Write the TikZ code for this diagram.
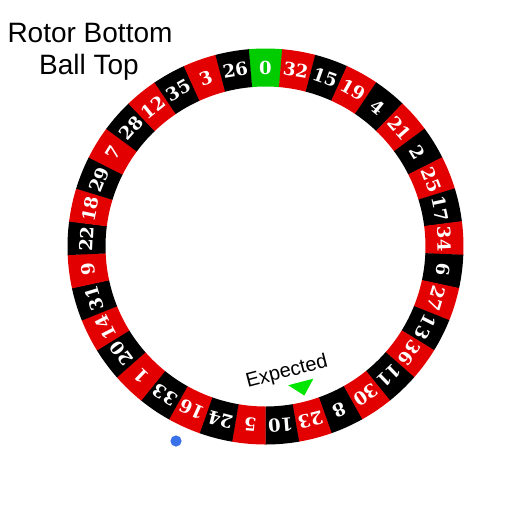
\documentclass[tikz,border=0pt]{standalone}
\usepackage{fontspec}
\setmainfont{Liberation Sans}
\newfontfamily\pocketfont{DejaVu Serif}
\definecolor{pred}{RGB}{226,0,0}
\definecolor{pgreen}{RGB}{0,204,0}
\definecolor{tgreen}{RGB}{0,230,0}
\definecolor{dotblue}{RGB}{58,112,232}
\begin{document}
\begin{tikzpicture}[x=1pt,y=1pt,
  pocketnum/.style={text=white, font=\pocketfont\bfseries\fontsize{18}{18}\selectfont, inner sep=0pt},
  titletext/.style={font=\fontsize{28}{34}\selectfont, inner sep=0pt, anchor=base},
  marktext/.style={font=\fontsize{20}{20}\selectfont, inner sep=0pt}]
\useasboundingbox (0,0) rectangle (529,-507);
\coordinate (C) at (265.5,-246.5);
\def\Ro{198}
\def\Ri{160}
\def\Rm{179}
\begin{scope}[shift={(C)}]
\foreach \n [count=\k from 0] in {0,32,15,19,4,21,2,25,17,34,6,27,13,36,11,30,8,23,10,5,24,16,33,1,20,14,31,9,22,18,29,7,28,12,35,3,26} {
  \pgfmathsetmacro\a{90-\k*360/37}
  \pgfmathsetmacro\aa{\a-180/37-0.05}
  \pgfmathsetmacro\ab{\a+180/37+0.05}
  \ifnum\k=0 \def\pc{pgreen}\else\ifodd\k \def\pc{pred}\else\def\pc{black}\fi\fi
  \fill[\pc] (\aa:\Ro) arc[start angle=\aa, end angle=\ab, radius=\Ro] -- (\ab:\Ri) arc[start angle=\ab, end angle=\aa, radius=\Ri] -- cycle;
  \node[pocketnum, rotate=\a-90] (p\k) at (\a:\Rm) {\n};
}
\begin{scope}[rotate=-75.4]
  \fill[tgreen] (154,0) -- (140,13) -- (140,-13) -- cycle;
\end{scope}
\end{scope}
\node[marktext, rotate=14.6] (exp) at (287,-372) {Expected};
\node[titletext] (t1) at (90,-42.3) {Rotor Bottom};
\node[titletext] (t2) at (89,-74) {Ball Top};
\fill[dotblue] (176,-441) circle (5.6);
\end{tikzpicture}
\end{document}
